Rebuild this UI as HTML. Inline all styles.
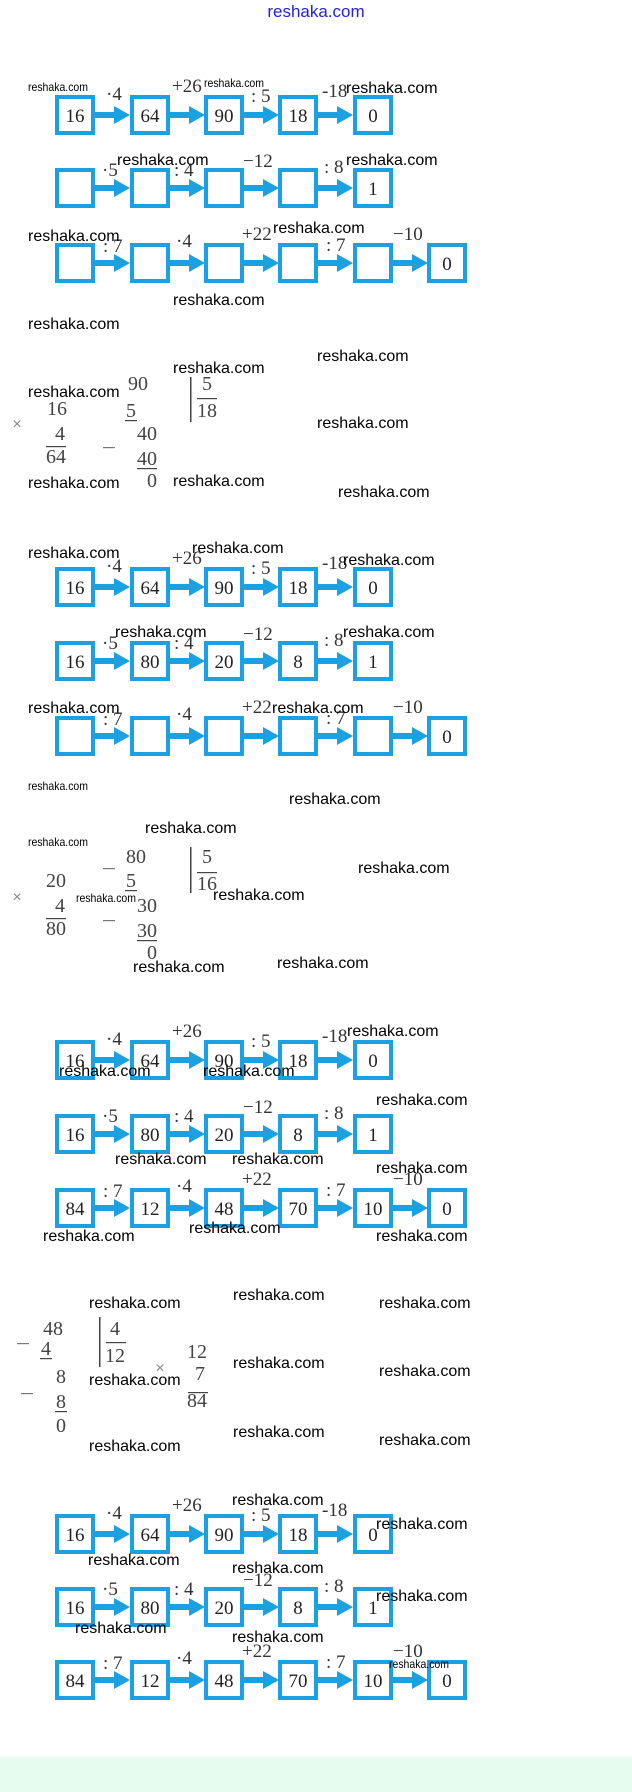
<!DOCTYPE html>
<html><head><meta charset="utf-8"><style>
html,body{margin:0;padding:0;background:#fff;width:632px;height:1792px;overflow:hidden}
svg{display:block}
.n{font-family:"Liberation Serif",serif;font-size:19px;fill:#222;text-anchor:middle}
.o{font-family:"Liberation Serif",serif;font-size:19px;fill:#333}
.m{font-family:"Liberation Serif",serif;font-size:20px;fill:#444;text-anchor:middle}
.w{font-family:"Liberation Sans",sans-serif;font-size:16px;fill:#000}
.s{font-family:"Liberation Sans",sans-serif;font-size:12px;fill:#000}
</style></head><body>
<svg width="632" height="1792" viewBox="0 0 632 1792" xmlns="http://www.w3.org/2000/svg">
<defs>
<rect id="b" x="2" y="2" width="36" height="36" fill="#fff" stroke="#1ba1e2" stroke-width="4"/>
<g id="a"><rect x="40" y="17" width="22" height="6" fill="#1ba1e2"/><polygon points="59,11 75,20 59,29" fill="#1ba1e2"/></g>
</defs>
<text x="316" y="17" text-anchor="middle" font-family="Liberation Sans,sans-serif" font-size="17" fill="#2222dd">reshaka.com</text>

<!-- Section 1 -->
<g transform="translate(55,95)">
<use href="#a"/><use href="#a" x="75"/><use href="#a" x="149"/><use href="#a" x="223"/>
<use href="#b"/><use href="#b" x="75"/><use href="#b" x="149"/><use href="#b" x="223"/><use href="#b" x="298"/>
<text class="n" x="20" y="27">16</text><text class="n" x="95" y="27">64</text><text class="n" x="169" y="27">90</text><text class="n" x="243" y="27">18</text><text class="n" x="318" y="27">0</text>
<text class="o" x="51" y="5">·4</text><text class="o" x="117" y="-3">+26</text><text class="o" x="196" y="7">: 5</text><text class="o" x="267" y="2">-18</text>
</g>
<g transform="translate(55,168)">
<use href="#a"/><use href="#a" x="75"/><use href="#a" x="149"/><use href="#a" x="223"/>
<use href="#b"/><use href="#b" x="75"/><use href="#b" x="149"/><use href="#b" x="223"/><use href="#b" x="298"/>
<text class="n" x="318" y="27">1</text>
<text class="o" x="47" y="8">·5</text><text class="o" x="119" y="8">: 4</text><text class="o" x="188" y="-1">−12</text><text class="o" x="269" y="5">: 8</text>
</g>
<g transform="translate(55,243)">
<use href="#a"/><use href="#a" x="75"/><use href="#a" x="149"/><use href="#a" x="223"/><use href="#a" x="298"/>
<use href="#b"/><use href="#b" x="75"/><use href="#b" x="149"/><use href="#b" x="223"/><use href="#b" x="298"/><use href="#b" x="372"/>
<text class="n" x="392" y="27">0</text>
<text class="o" x="48" y="9">: 7</text><text class="o" x="121" y="4">·4</text><text class="o" x="187" y="-3">+22</text><text class="o" x="271" y="8">: 7</text><text class="o" x="338" y="-3">−10</text>
</g>
<text class="s" x="28" y="91" textLength="60" lengthAdjust="spacingAndGlyphs">reshaka.com</text>
<text class="s" x="204" y="87" textLength="60" lengthAdjust="spacingAndGlyphs">reshaka.com</text>
<text class="w" x="346" y="93">reshaka.com</text>
<text class="w" x="117" y="165">reshaka.com</text>
<text class="w" x="346" y="165">reshaka.com</text>
<text class="w" x="28" y="241">reshaka.com</text>
<text class="w" x="273" y="233">reshaka.com</text>
<text class="w" x="173" y="305">reshaka.com</text>
<text class="w" x="28" y="329">reshaka.com</text>

<!-- Section 2 math -->
<text class="m" x="57" y="415">16</text>
<text x="17" y="429" font-size="16" fill="#888" text-anchor="middle" font-family="Liberation Sans,sans-serif">×</text>
<text class="m" x="60" y="440">4</text>
<rect x="46" y="446" width="20" height="1.2" fill="#444"/>
<text class="m" x="56" y="463">64</text>
<text class="m" x="138" y="390">90</text>
<text class="m" x="131" y="417">5</text><rect x="125" y="420" width="12" height="1.2" fill="#444"/>
<rect x="103" y="447" width="12" height="1.2" fill="#777"/>
<text class="m" x="147" y="440">40</text>
<text class="m" x="147" y="465">40</text><rect x="137" y="468" width="20" height="1.2" fill="#444"/>
<text class="m" x="152" y="487">0</text>
<rect x="190" y="377" width="1.5" height="45" fill="#444"/>
<text class="m" x="207" y="390">5</text><rect x="197" y="398" width="20" height="1.2" fill="#444"/>
<text class="m" x="207" y="417">18</text>
<text class="w" x="317" y="361">reshaka.com</text>
<text class="w" x="173" y="373">reshaka.com</text>
<text class="w" x="28" y="397">reshaka.com</text>
<text class="w" x="317" y="428">reshaka.com</text>
<text class="w" x="28" y="488">reshaka.com</text>
<text class="w" x="173" y="486">reshaka.com</text>
<text class="w" x="338" y="497">reshaka.com</text>

<!-- Section 3 -->
<g transform="translate(55,567)">
<use href="#a"/><use href="#a" x="75"/><use href="#a" x="149"/><use href="#a" x="223"/>
<use href="#b"/><use href="#b" x="75"/><use href="#b" x="149"/><use href="#b" x="223"/><use href="#b" x="298"/>
<text class="n" x="20" y="27">16</text><text class="n" x="95" y="27">64</text><text class="n" x="169" y="27">90</text><text class="n" x="243" y="27">18</text><text class="n" x="318" y="27">0</text>
<text class="o" x="51" y="5">·4</text><text class="o" x="117" y="-3">+26</text><text class="o" x="196" y="7">: 5</text><text class="o" x="267" y="2">-18</text>
</g>
<g transform="translate(55,641)">
<use href="#a"/><use href="#a" x="75"/><use href="#a" x="149"/><use href="#a" x="223"/>
<use href="#b"/><use href="#b" x="75"/><use href="#b" x="149"/><use href="#b" x="223"/><use href="#b" x="298"/>
<text class="n" x="20" y="27">16</text><text class="n" x="95" y="27">80</text><text class="n" x="169" y="27">20</text><text class="n" x="243" y="27">8</text><text class="n" x="318" y="27">1</text>
<text class="o" x="47" y="8">·5</text><text class="o" x="119" y="8">: 4</text><text class="o" x="188" y="-1">−12</text><text class="o" x="269" y="5">: 8</text>
</g>
<g transform="translate(55,716)">
<use href="#a"/><use href="#a" x="75"/><use href="#a" x="149"/><use href="#a" x="223"/><use href="#a" x="298"/>
<use href="#b"/><use href="#b" x="75"/><use href="#b" x="149"/><use href="#b" x="223"/><use href="#b" x="298"/><use href="#b" x="372"/>
<text class="n" x="392" y="27">0</text>
<text class="o" x="48" y="9">: 7</text><text class="o" x="121" y="4">·4</text><text class="o" x="187" y="-3">+22</text><text class="o" x="271" y="8">: 7</text><text class="o" x="338" y="-3">−10</text>
</g>
<text class="w" x="28" y="558">reshaka.com</text>
<text class="w" x="192" y="553">reshaka.com</text>
<text class="w" x="343" y="565">reshaka.com</text>
<text class="w" x="115" y="637">reshaka.com</text>
<text class="w" x="343" y="637">reshaka.com</text>
<text class="w" x="28" y="713">reshaka.com</text>
<text class="w" x="272" y="713">reshaka.com</text>
<text class="s" x="28" y="790" textLength="60" lengthAdjust="spacingAndGlyphs">reshaka.com</text>

<!-- Section 4 math -->
<text class="w" x="289" y="804">reshaka.com</text>
<text class="w" x="145" y="833">reshaka.com</text>
<text class="s" x="28" y="846" textLength="60" lengthAdjust="spacingAndGlyphs">reshaka.com</text>
<text class="w" x="358" y="873">reshaka.com</text>
<text class="m" x="136" y="863">80</text>
<rect x="103" y="868" width="12" height="1.2" fill="#777"/>
<text class="m" x="131" y="887">5</text><rect x="125" y="890" width="12" height="1.2" fill="#444"/>
<text class="m" x="147" y="912">30</text>
<rect x="103" y="920" width="12" height="1.2" fill="#777"/>
<text class="m" x="147" y="937">30</text><rect x="137" y="940" width="20" height="1.2" fill="#444"/>
<text class="m" x="152" y="959">0</text>
<rect x="190" y="847" width="1.5" height="46" fill="#444"/>
<text class="m" x="207" y="863">5</text><rect x="197" y="872" width="20" height="1.2" fill="#444"/>
<text class="m" x="207" y="890">16</text>
<text class="m" x="56" y="887">20</text>
<text x="17" y="902" font-size="16" fill="#888" text-anchor="middle" font-family="Liberation Sans,sans-serif">×</text>
<text class="m" x="60" y="912">4</text>
<rect x="46" y="918" width="20" height="1.2" fill="#444"/>
<text class="m" x="56" y="935">80</text>
<text class="s" x="76" y="902" textLength="60" lengthAdjust="spacingAndGlyphs">reshaka.com</text>
<text class="w" x="213" y="900">reshaka.com</text>
<text class="w" x="133" y="972">reshaka.com</text>
<text class="w" x="277" y="968">reshaka.com</text>

<!-- Section 5 -->
<g transform="translate(55,1040)">
<use href="#a"/><use href="#a" x="75"/><use href="#a" x="149"/><use href="#a" x="223"/>
<use href="#b"/><use href="#b" x="75"/><use href="#b" x="149"/><use href="#b" x="223"/><use href="#b" x="298"/>
<text class="n" x="20" y="27">16</text><text class="n" x="95" y="27">64</text><text class="n" x="169" y="27">90</text><text class="n" x="243" y="27">18</text><text class="n" x="318" y="27">0</text>
<text class="o" x="51" y="5">·4</text><text class="o" x="117" y="-3">+26</text><text class="o" x="196" y="7">: 5</text><text class="o" x="267" y="2">-18</text>
</g>
<g transform="translate(55,1114)">
<use href="#a"/><use href="#a" x="75"/><use href="#a" x="149"/><use href="#a" x="223"/>
<use href="#b"/><use href="#b" x="75"/><use href="#b" x="149"/><use href="#b" x="223"/><use href="#b" x="298"/>
<text class="n" x="20" y="27">16</text><text class="n" x="95" y="27">80</text><text class="n" x="169" y="27">20</text><text class="n" x="243" y="27">8</text><text class="n" x="318" y="27">1</text>
<text class="o" x="47" y="8">·5</text><text class="o" x="119" y="8">: 4</text><text class="o" x="188" y="-1">−12</text><text class="o" x="269" y="5">: 8</text>
</g>
<g transform="translate(55,1188)">
<use href="#a"/><use href="#a" x="75"/><use href="#a" x="149"/><use href="#a" x="223"/><use href="#a" x="298"/>
<use href="#b"/><use href="#b" x="75"/><use href="#b" x="149"/><use href="#b" x="223"/><use href="#b" x="298"/><use href="#b" x="372"/>
<text class="n" x="20" y="27">84</text><text class="n" x="95" y="27">12</text><text class="n" x="169" y="27">48</text><text class="n" x="243" y="27">70</text><text class="n" x="318" y="27">10</text><text class="n" x="392" y="27">0</text>
<text class="o" x="48" y="9">: 7</text><text class="o" x="121" y="4">·4</text><text class="o" x="187" y="-3">+22</text><text class="o" x="271" y="8">: 7</text><text class="o" x="338" y="-3">−10</text>
</g>
<text class="w" x="59" y="1076">reshaka.com</text>
<text class="w" x="203" y="1076">reshaka.com</text>
<text class="w" x="347" y="1036">reshaka.com</text>
<text class="w" x="376" y="1105">reshaka.com</text>
<text class="w" x="115" y="1164">reshaka.com</text>
<text class="w" x="232" y="1164">reshaka.com</text>
<text class="w" x="376" y="1173">reshaka.com</text>
<text class="w" x="43" y="1241">reshaka.com</text>
<text class="w" x="189" y="1233">reshaka.com</text>
<text class="w" x="376" y="1241">reshaka.com</text>

<!-- Section 6 math -->
<rect x="17" y="1343" width="12" height="1.2" fill="#777"/>
<text class="m" x="53" y="1335">48</text>
<text class="m" x="46" y="1355">4</text><rect x="40" y="1358" width="12" height="1.2" fill="#444"/>
<text class="m" x="61" y="1383">8</text>
<rect x="21" y="1393" width="12" height="1.2" fill="#777"/>
<text class="m" x="61" y="1408">8</text><rect x="55" y="1411" width="12" height="1.2" fill="#444"/>
<text class="m" x="61" y="1432">0</text>
<rect x="99" y="1317" width="1.5" height="50" fill="#444"/>
<text class="m" x="115" y="1335">4</text><rect x="106" y="1342" width="20" height="1.2" fill="#444"/>
<text class="m" x="115" y="1362">12</text>
<text x="160" y="1373" font-size="16" fill="#888" text-anchor="middle" font-family="Liberation Sans,sans-serif">×</text>
<text class="m" x="197" y="1358">12</text>
<text class="m" x="200" y="1380">7</text>
<rect x="188" y="1392" width="20" height="1.2" fill="#444"/>
<text class="m" x="197" y="1407">84</text>
<text class="w" x="89" y="1308">reshaka.com</text>
<text class="w" x="233" y="1300">reshaka.com</text>
<text class="w" x="379" y="1308">reshaka.com</text>
<text class="w" x="233" y="1368">reshaka.com</text>
<text class="w" x="89" y="1385">reshaka.com</text>
<text class="w" x="379" y="1376">reshaka.com</text>
<text class="w" x="233" y="1437">reshaka.com</text>
<text class="w" x="89" y="1451">reshaka.com</text>
<text class="w" x="379" y="1445">reshaka.com</text>

<!-- Section 7 -->
<g transform="translate(55,1514)">
<use href="#a"/><use href="#a" x="75"/><use href="#a" x="149"/><use href="#a" x="223"/>
<use href="#b"/><use href="#b" x="75"/><use href="#b" x="149"/><use href="#b" x="223"/><use href="#b" x="298"/>
<text class="n" x="20" y="27">16</text><text class="n" x="95" y="27">64</text><text class="n" x="169" y="27">90</text><text class="n" x="243" y="27">18</text><text class="n" x="318" y="27">0</text>
<text class="o" x="51" y="5">·4</text><text class="o" x="117" y="-3">+26</text><text class="o" x="196" y="7">: 5</text><text class="o" x="267" y="2">-18</text>
</g>
<g transform="translate(55,1587)">
<use href="#a"/><use href="#a" x="75"/><use href="#a" x="149"/><use href="#a" x="223"/>
<use href="#b"/><use href="#b" x="75"/><use href="#b" x="149"/><use href="#b" x="223"/><use href="#b" x="298"/>
<text class="n" x="20" y="27">16</text><text class="n" x="95" y="27">80</text><text class="n" x="169" y="27">20</text><text class="n" x="243" y="27">8</text><text class="n" x="318" y="27">1</text>
<text class="o" x="47" y="8">·5</text><text class="o" x="119" y="8">: 4</text><text class="o" x="188" y="-1">−12</text><text class="o" x="269" y="5">: 8</text>
</g>
<g transform="translate(55,1660)">
<use href="#a"/><use href="#a" x="75"/><use href="#a" x="149"/><use href="#a" x="223"/><use href="#a" x="298"/>
<use href="#b"/><use href="#b" x="75"/><use href="#b" x="149"/><use href="#b" x="223"/><use href="#b" x="298"/><use href="#b" x="372"/>
<text class="n" x="20" y="27">84</text><text class="n" x="95" y="27">12</text><text class="n" x="169" y="27">48</text><text class="n" x="243" y="27">70</text><text class="n" x="318" y="27">10</text><text class="n" x="392" y="27">0</text>
<text class="o" x="48" y="9">: 7</text><text class="o" x="121" y="4">·4</text><text class="o" x="187" y="-3">+22</text><text class="o" x="271" y="8">: 7</text><text class="o" x="338" y="-3">−10</text>
</g>
<text class="w" x="232" y="1505">reshaka.com</text>
<text class="w" x="376" y="1529">reshaka.com</text>
<text class="w" x="88" y="1565">reshaka.com</text>
<text class="w" x="232" y="1573">reshaka.com</text>
<text class="w" x="376" y="1601">reshaka.com</text>
<text class="w" x="75" y="1633">reshaka.com</text>
<text class="w" x="232" y="1642">reshaka.com</text>
<text class="s" x="389" y="1668" textLength="60" lengthAdjust="spacingAndGlyphs">reshaka.com</text>

<rect x="0" y="1757" width="632" height="35" fill="#e6fcef"/>
</svg>
</body></html>
